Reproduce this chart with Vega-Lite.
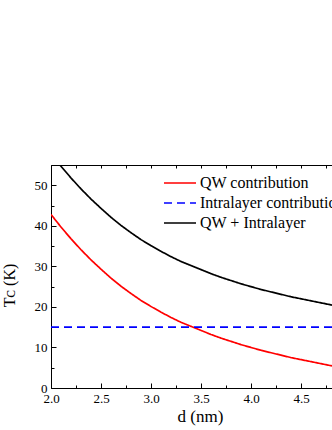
{
  "$schema": "https://vega.github.io/schema/vega-lite/v6.json",
  "width": 281,
  "height": 223,
  "autosize": {"type": "none"},
  "padding": {"left": 51, "top": 165, "right": 0, "bottom": 42},
  "background": "white",
  "config": {
    "view": {"stroke": null},
    "axis": {
      "domainColor": "#000000",
      "domainWidth": 1,
      "tickColor": "#000000",
      "tickWidth": 1,
      "labelColor": "#000000",
      "labelFont": "Liberation Serif",
      "labelFontSize": 13,
      "labelFlush": false,
      "labelOverlap": false,
      "titleColor": "#000000",
      "titleFont": "Liberation Serif",
      "titleFontWeight": "normal",
      "titleFontSize": 17,
      "grid": false
    },
    "legend": {
      "labelFont": "Liberation Serif",
      "labelFontSize": 16,
      "labelColor": "#000000"
    }
  },
  "data": {
    "values": [
      {"d": 2.0, "Tc": 42.8, "series": "QW contribution"},
      {"d": 2.1, "Tc": 39.7, "series": "QW contribution"},
      {"d": 2.2, "Tc": 36.8, "series": "QW contribution"},
      {"d": 2.3, "Tc": 34.1, "series": "QW contribution"},
      {"d": 2.4, "Tc": 31.6, "series": "QW contribution"},
      {"d": 2.5, "Tc": 29.3, "series": "QW contribution"},
      {"d": 2.6, "Tc": 27.1, "series": "QW contribution"},
      {"d": 2.7, "Tc": 25.1, "series": "QW contribution"},
      {"d": 2.8, "Tc": 23.3, "series": "QW contribution"},
      {"d": 2.9, "Tc": 21.6, "series": "QW contribution"},
      {"d": 3.0, "Tc": 20.1, "series": "QW contribution"},
      {"d": 3.1, "Tc": 18.7, "series": "QW contribution"},
      {"d": 3.2, "Tc": 17.4, "series": "QW contribution"},
      {"d": 3.3, "Tc": 16.2, "series": "QW contribution"},
      {"d": 3.4, "Tc": 15.2, "series": "QW contribution"},
      {"d": 3.5, "Tc": 14.2, "series": "QW contribution"},
      {"d": 3.6, "Tc": 13.2, "series": "QW contribution"},
      {"d": 3.7, "Tc": 12.3, "series": "QW contribution"},
      {"d": 3.8, "Tc": 11.5, "series": "QW contribution"},
      {"d": 3.9, "Tc": 10.7, "series": "QW contribution"},
      {"d": 4.0, "Tc": 10.0, "series": "QW contribution"},
      {"d": 4.1, "Tc": 9.3, "series": "QW contribution"},
      {"d": 4.2, "Tc": 8.7, "series": "QW contribution"},
      {"d": 4.3, "Tc": 8.1, "series": "QW contribution"},
      {"d": 4.4, "Tc": 7.5, "series": "QW contribution"},
      {"d": 4.5, "Tc": 7.0, "series": "QW contribution"},
      {"d": 4.6, "Tc": 6.5, "series": "QW contribution"},
      {"d": 4.7, "Tc": 6.0, "series": "QW contribution"},
      {"d": 4.8, "Tc": 5.5, "series": "QW contribution"},
      {"d": 4.81, "Tc": 5.45, "series": "QW contribution"},
      {"d": 2.0, "Tc": 15, "series": "Intralayer contribution"},
      {"d": 4.81, "Tc": 15, "series": "Intralayer contribution"},
      {"d": 2.0, "Tc": 57.8, "series": "QW + Intralayer"},
      {"d": 2.1, "Tc": 54.7, "series": "QW + Intralayer"},
      {"d": 2.2, "Tc": 51.8, "series": "QW + Intralayer"},
      {"d": 2.3, "Tc": 49.1, "series": "QW + Intralayer"},
      {"d": 2.4, "Tc": 46.6, "series": "QW + Intralayer"},
      {"d": 2.5, "Tc": 44.3, "series": "QW + Intralayer"},
      {"d": 2.6, "Tc": 42.1, "series": "QW + Intralayer"},
      {"d": 2.7, "Tc": 40.1, "series": "QW + Intralayer"},
      {"d": 2.8, "Tc": 38.3, "series": "QW + Intralayer"},
      {"d": 2.9, "Tc": 36.6, "series": "QW + Intralayer"},
      {"d": 3.0, "Tc": 35.1, "series": "QW + Intralayer"},
      {"d": 3.1, "Tc": 33.7, "series": "QW + Intralayer"},
      {"d": 3.2, "Tc": 32.4, "series": "QW + Intralayer"},
      {"d": 3.3, "Tc": 31.2, "series": "QW + Intralayer"},
      {"d": 3.4, "Tc": 30.2, "series": "QW + Intralayer"},
      {"d": 3.5, "Tc": 29.2, "series": "QW + Intralayer"},
      {"d": 3.6, "Tc": 28.2, "series": "QW + Intralayer"},
      {"d": 3.7, "Tc": 27.3, "series": "QW + Intralayer"},
      {"d": 3.8, "Tc": 26.5, "series": "QW + Intralayer"},
      {"d": 3.9, "Tc": 25.7, "series": "QW + Intralayer"},
      {"d": 4.0, "Tc": 25.0, "series": "QW + Intralayer"},
      {"d": 4.1, "Tc": 24.3, "series": "QW + Intralayer"},
      {"d": 4.2, "Tc": 23.7, "series": "QW + Intralayer"},
      {"d": 4.3, "Tc": 23.1, "series": "QW + Intralayer"},
      {"d": 4.4, "Tc": 22.5, "series": "QW + Intralayer"},
      {"d": 4.5, "Tc": 22.0, "series": "QW + Intralayer"},
      {"d": 4.6, "Tc": 21.5, "series": "QW + Intralayer"},
      {"d": 4.7, "Tc": 21.0, "series": "QW + Intralayer"},
      {"d": 4.8, "Tc": 20.5, "series": "QW + Intralayer"},
      {"d": 4.81, "Tc": 20.45, "series": "QW + Intralayer"}
    ]
  },
  "layer": [
    {
      "mark": {"type": "line", "clip": true, "strokeWidth": 1.7},
      "encoding": {
        "x": {
          "field": "d", "type": "quantitative",
          "scale": {"domain": [2, 4.81], "nice": false, "zero": false},
          "axis": {
            "orient": "bottom", "values": [2, 2.5, 3, 3.5, 4, 4.5], "format": ".1f",
            "tickSize": -5, "labelPadding": 9, "title": "d (nm)",
            "titleX": 149, "titleY": 33, "titleBaseline": "alphabetic", "titleAlign": "center"
          }
        },
        "y": {
          "field": "Tc", "type": "quantitative",
          "scale": {"domain": [0, 55], "nice": false, "zero": true},
          "axis": {
            "orient": "left", "values": [0, 10, 20, 30, 40, 50],
            "tickSize": -5, "labelPadding": 9, "title": "Tᴄ (K)",
            "titleX": -37, "titleY": 120, "titleAngle": -90, "titleBaseline": "alphabetic", "titleAlign": "center",
            "titleFontSize": 16
          }
        },
        "color": {
          "field": "series", "type": "nominal",
          "scale": {"domain": ["QW contribution", "Intralayer contribution", "QW + Intralayer"], "range": ["#ff0000", "#0000ff", "#000000"]},
          "legend": {"title": null, "orient": "none", "legendX": 120, "legendY": 9, "padding": 0, "symbolType": "M-2,0H2", "symbolSize": 256, "symbolStrokeWidth": 1.7, "labelLimit": 400, "labelOffset": 11, "rowPadding": 3}
        },
        "strokeDash": {
          "field": "series", "type": "nominal",
          "scale": {"domain": ["QW contribution", "Intralayer contribution", "QW + Intralayer"], "range": [[1, 0], [8, 5], [1, 0]]},
          "legend": {"title": null, "orient": "none", "legendX": 120, "legendY": 9, "padding": 0, "symbolType": "M-2,0H2", "symbolSize": 256, "symbolStrokeWidth": 1.7, "labelLimit": 400, "labelOffset": 11, "rowPadding": 3}
        }
      }
    },
    {
      "mark": {"type": "point", "opacity": 0},
      "encoding": {
        "x": {
          "field": "d", "type": "quantitative",
          "axis": {"orient": "bottom", "values": [2.25, 2.75, 3.25, 3.75, 4.25, 4.75], "labels": false, "domain": false, "tickSize": -3, "title": null}
        },
        "y": {
          "field": "Tc", "type": "quantitative",
          "axis": {"orient": "left", "values": [5, 15, 25, 35, 45, 55], "labels": false, "domain": false, "tickSize": -3, "title": null}
        }
      }
    },
    {
      "mark": {"type": "point", "opacity": 0},
      "encoding": {
        "x": {
          "field": "d", "type": "quantitative",
          "axis": {"orient": "top", "values": [2, 2.25, 2.5, 2.75, 3, 3.25, 3.5, 3.75, 4, 4.25, 4.5, 4.75], "labels": false, "domain": true, "tickSize": -3, "title": null}
        },
        "y": {"field": "Tc", "type": "quantitative", "axis": null}
      }
    }
  ],
  "resolve": {"axis": {"x": "independent", "y": "independent"}}
}
